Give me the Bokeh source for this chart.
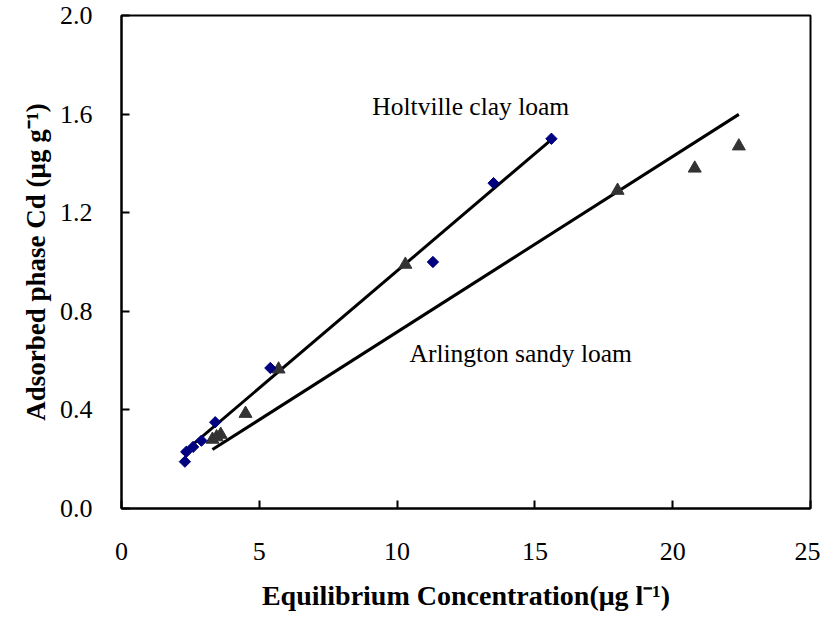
import numpy as np
from bokeh.plotting import figure
from bokeh.models import Label, FixedTicker, NumeralTickFormatter
from bokeh.embed import file_html
from bokeh.resources import INLINE

# Holtville clay loam (diamonds)
holt_x = [2.3, 2.35, 2.6, 2.9, 3.4, 5.4, 11.3, 13.5, 15.6]
holt_y = [0.19, 0.23, 0.25, 0.275, 0.35, 0.57, 1.00, 1.32, 1.50]
# Arlington sandy loam (triangles)
arl_x = [3.3, 3.45, 3.6, 4.5, 5.7, 10.3, 18.0, 20.8, 22.4]
arl_y = [0.28, 0.29, 0.30, 0.385, 0.565, 0.99, 1.29, 1.38, 1.47]
# linear fits (slope, intercept)
holt_fit = [0.0951, 0.013]
arl_fit = [0.0712, 0.004]

x_ticks = [0, 5, 10, 15, 20, 25]
y_ticks = [0.0, 0.4, 0.8, 1.2, 1.6, 2.0]

SERIF = "Liberation Serif"

p = figure(width=820, height=614, x_range=(0, 25), y_range=(0, 2.0),
           output_backend="svg", toolbar_location=None,
           min_border_left=121, min_border_right=10,
           min_border_top=15, min_border_bottom=106)
p.background_fill_color = "white"
p.border_fill_color = "white"
p.outline_line_color = "black"
p.outline_line_width = 2
p.xgrid.visible = False
p.ygrid.visible = False

# fitted lines
hx = np.array([2.2, max(holt_x)])
ax = np.array([min(arl_x), max(arl_x)])
p.line(hx, holt_fit[0] * hx + holt_fit[1], line_color="black", line_width=3)
p.line(ax, arl_fit[0] * ax + arl_fit[1], line_color="black", line_width=3)

p.scatter(arl_x, arl_y, marker="triangle", size=13, fill_color="#333333",
          line_color="#333333")
p.scatter(holt_x, holt_y, marker="square", size=8, angle=np.pi / 4,
          fill_color="#000080", line_color="#000080")

p.add_layout(Label(x=9.1, y=1.632, text="Holtville clay loam",
                   text_font=SERIF, text_font_size="25.5px",
                   text_baseline="middle", text_align="left", text_color="black"))
p.add_layout(Label(x=10.45, y=0.63, text="Arlington sandy loam",
                   text_font=SERIF, text_font_size="25.5px",
                   text_baseline="middle", text_align="left", text_color="black"))

for axis in (p.xaxis[0], p.yaxis[0]):
    axis.axis_line_color = "black"
    axis.axis_line_width = 2
    axis.major_tick_in = 8
    axis.major_tick_out = 0
    axis.major_tick_line_width = 2
    axis.minor_tick_line_color = None
    axis.major_label_text_font = SERIF
    axis.major_label_text_font_size = "26px"
    axis.major_label_text_color = "black"
    axis.axis_label_text_font = SERIF
    axis.axis_label_text_font_style = "bold"
    axis.axis_label_text_color = "black"

p.xaxis.axis_label_text_font_size = "28px"
p.yaxis.axis_label_text_font_size = "27px"
p.xaxis.ticker = FixedTicker(ticks=x_ticks)
p.yaxis.ticker = FixedTicker(ticks=y_ticks)
p.yaxis.formatter = NumeralTickFormatter(format="0.0")
p.xaxis.major_label_standoff = 34
p.yaxis.major_label_standoff = 29
p.xaxis.axis_label = "Equilibrium Concentration(\u03bcg l\u207b\u00b9)"
p.yaxis.axis_label = "Adsorbed phase Cd (\u03bcg g\u207b\u00b9)"
p.xaxis.axis_label_standoff = 17
p.yaxis.axis_label_standoff = 6

open("out.html", "w").write(file_html(p, INLINE))
